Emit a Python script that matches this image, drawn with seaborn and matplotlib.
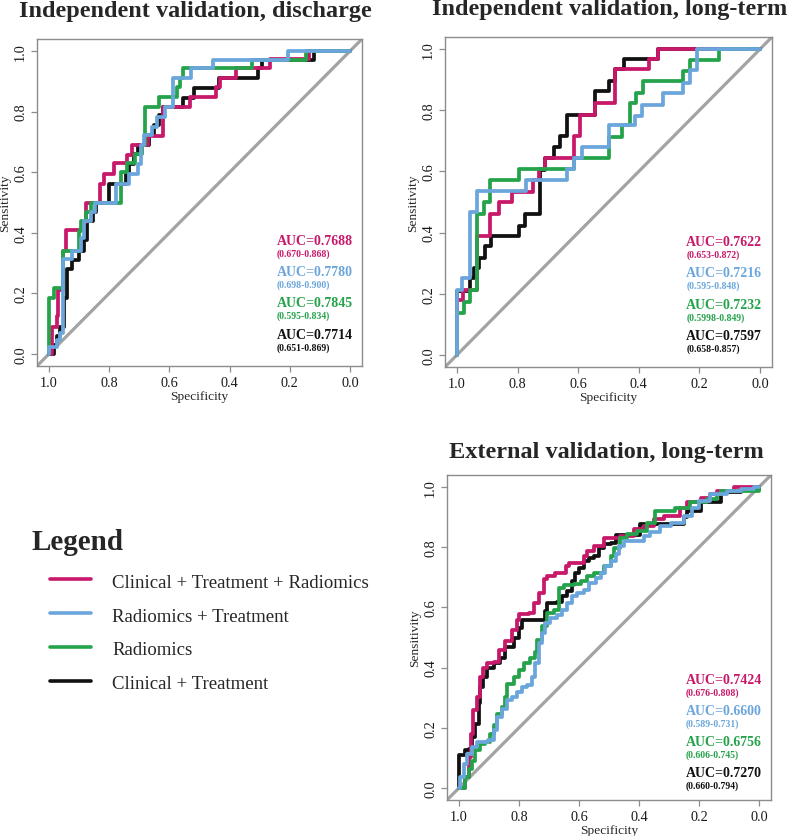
import numpy as np
import pandas as pd
import seaborn as sns
import matplotlib.pyplot as plt
from matplotlib.lines import Line2D

#%% data
models = ['Clinical + Treatment + Radiomics', 'Radiomics + Treatment', 'Radiomics', 'Clinical + Treatment']
colors = ['#C8186A', '#6AA6DC', '#25A34B', '#111111']

# independent validation, discharge
dis_ctr_spec = [1.0, 0.99, 0.975, 0.97, 0.955, 0.945, 0.89, 0.878, 0.83, 0.818, 0.785, 0.742, 0.724, 0.67, 0.62, 0.532, 0.444, 0.433, 0.378, 0.265, 0.135, 0.0]
dis_ctr_sens = [0.0, 0.09, 0.125, 0.21, 0.34, 0.41, 0.435, 0.5, 0.56, 0.595, 0.63, 0.656, 0.69, 0.72, 0.815, 0.85, 0.88, 0.91, 0.945, 0.975, 1.0, 1.0]
dis_rt_spec = [1.0, 1.0, 0.974, 0.963, 0.952, 0.925, 0.894, 0.883, 0.861, 0.848, 0.777, 0.734, 0.706, 0.695, 0.684, 0.657, 0.641, 0.615, 0.587, 0.527, 0.456, 0.205, 0.0]
dis_rt_sens = [0.0, 0.024, 0.047, 0.069, 0.312, 0.34, 0.384, 0.44, 0.467, 0.5, 0.561, 0.595, 0.628, 0.689, 0.722, 0.75, 0.783, 0.817, 0.911, 0.945, 0.972, 1.0, 1.0]
dis_r_spec = [1.0, 1.0, 0.985, 0.955, 0.90, 0.895, 0.876, 0.86, 0.761, 0.74, 0.713, 0.69, 0.68, 0.636, 0.576, 0.565, 0.555, 0.325, 0.145, 0.0]
dis_r_sens = [0.0, 0.185, 0.218, 0.34, 0.405, 0.44, 0.47, 0.5, 0.6, 0.63, 0.66, 0.69, 0.817, 0.85, 0.88, 0.91, 0.945, 0.972, 1.0, 1.0]
dis_ct_spec = [1.0, 0.985, 0.975, 0.965, 0.95, 0.94, 0.925, 0.9, 0.885, 0.875, 0.855, 0.845, 0.80, 0.745, 0.733, 0.717, 0.705, 0.667, 0.65, 0.636, 0.62, 0.555, 0.517, 0.435, 0.304, 0.293, 0.118, 0.0]
dis_ct_sens = [0.0, 0.03, 0.06, 0.09, 0.185, 0.28, 0.31, 0.34, 0.375, 0.44, 0.47, 0.5, 0.561, 0.6, 0.628, 0.66, 0.69, 0.722, 0.756, 0.79, 0.817, 0.845, 0.878, 0.911, 0.945, 0.972, 1.0, 1.0]

# independent validation, long-term
lt_ctr_spec = [1.0, 1.0, 0.98, 0.934, 0.89, 0.863, 0.819, 0.751, 0.729, 0.709, 0.615, 0.593, 0.544, 0.478, 0.365, 0.338, 0.0]
lt_ctr_sens = [0.0, 0.18, 0.213, 0.389, 0.461, 0.5, 0.532, 0.571, 0.607, 0.643, 0.717, 0.784, 0.825, 0.935, 0.968, 1.0, 1.0]
lt_rt_spec = [1.0, 1.0, 0.984, 0.959, 0.934, 0.771, 0.637, 0.615, 0.588, 0.5, 0.412, 0.39, 0.319, 0.253, 0.231, 0.207, 0.0]
lt_rt_sens = [0.0, 0.213, 0.251, 0.466, 0.536, 0.571, 0.607, 0.643, 0.681, 0.753, 0.783, 0.819, 0.858, 0.891, 0.933, 1.0, 1.0]
lt_r_spec = [1.0, 1.0, 0.978, 0.956, 0.934, 0.912, 0.89, 0.797, 0.615, 0.5, 0.456, 0.429, 0.409, 0.387, 0.253, 0.231, 0.134, 0.0]
lt_r_sens = [0.0, 0.136, 0.174, 0.213, 0.461, 0.5, 0.571, 0.607, 0.643, 0.714, 0.753, 0.825, 0.858, 0.896, 0.929, 0.966, 1.0, 1.0]
lt_ct_spec = [1.0, 1.0, 0.958, 0.945, 0.929, 0.909, 0.887, 0.797, 0.775, 0.725, 0.709, 0.681, 0.659, 0.637, 0.544, 0.5, 0.478, 0.45, 0.338, 0.0]
lt_ct_sens = [0.0, 0.21, 0.25, 0.284, 0.318, 0.356, 0.389, 0.422, 0.461, 0.604, 0.643, 0.681, 0.717, 0.786, 0.863, 0.896, 0.935, 0.968, 1.0, 1.0]

# external validation, long-term
ext_ctr_spec = [1.0, 0.98, 0.968, 0.96, 0.952, 0.941, 0.93, 0.919, 0.907, 0.885, 0.868, 0.846, 0.824, 0.807, 0.801, 0.767, 0.751, 0.734, 0.718, 0.707, 0.679, 0.645, 0.634, 0.595, 0.584, 0.573, 0.551, 0.517, 0.495, 0.462, 0.417, 0.385, 0.351, 0.318, 0.262, 0.24, 0.195, 0.162, 0.139, 0.084, 0.0]
ext_ctr_sens = [0.0, 0.036, 0.102, 0.18, 0.258, 0.303, 0.37, 0.398, 0.414, 0.42, 0.459, 0.487, 0.526, 0.559, 0.579, 0.581, 0.615, 0.648, 0.693, 0.704, 0.715, 0.739, 0.746, 0.746, 0.771, 0.787, 0.804, 0.832, 0.832, 0.837, 0.86, 0.871, 0.893, 0.904, 0.932, 0.949, 0.965, 0.977, 0.988, 0.999, 1.0]
ext_rt_spec = [1.0, 0.997, 0.985, 0.974, 0.958, 0.941, 0.902, 0.885, 0.874, 0.857, 0.84, 0.824, 0.807, 0.79, 0.774, 0.757, 0.746, 0.734, 0.723, 0.712, 0.696, 0.673, 0.657, 0.64, 0.623, 0.606, 0.584, 0.567, 0.545, 0.528, 0.512, 0.495, 0.478, 0.467, 0.45, 0.417, 0.384, 0.362, 0.329, 0.295, 0.251, 0.223, 0.201, 0.162, 0.106, 0.061, 0.017, 0.0]
ext_rt_sens = [0.0, 0.036, 0.08, 0.114, 0.136, 0.153, 0.158, 0.192, 0.236, 0.264, 0.292, 0.303, 0.32, 0.336, 0.342, 0.37, 0.414, 0.481, 0.514, 0.548, 0.565, 0.576, 0.592, 0.615, 0.637, 0.648, 0.659, 0.682, 0.698, 0.715, 0.737, 0.754, 0.776, 0.804, 0.821, 0.821, 0.837, 0.849, 0.871, 0.882, 0.904, 0.932, 0.954, 0.977, 0.988, 0.993, 1.0, 1.0]
ext_r_spec = [1.0, 0.98, 0.968, 0.958, 0.946, 0.93, 0.913, 0.896, 0.885, 0.874, 0.857, 0.846, 0.84, 0.818, 0.801, 0.785, 0.763, 0.746, 0.74, 0.723, 0.707, 0.684, 0.668, 0.651, 0.618, 0.595, 0.573, 0.551, 0.517, 0.495, 0.484, 0.462, 0.439, 0.406, 0.373, 0.346, 0.279, 0.229, 0.173, 0.139, 0.128, 0.0]
ext_r_sens = [0.0, 0.036, 0.063, 0.091, 0.125, 0.147, 0.153, 0.18, 0.208, 0.247, 0.27, 0.303, 0.347, 0.37, 0.392, 0.414, 0.431, 0.453, 0.492, 0.537, 0.581, 0.592, 0.665, 0.676, 0.679, 0.687, 0.704, 0.715, 0.737, 0.771, 0.798, 0.832, 0.843, 0.854, 0.882, 0.921, 0.932, 0.949, 0.96, 0.977, 0.988, 1.0]
ext_ct_spec = [1.0, 1.0, 0.98, 0.968, 0.958, 0.946, 0.935, 0.93, 0.919, 0.907, 0.885, 0.862, 0.846, 0.818, 0.801, 0.79, 0.729, 0.712, 0.707, 0.673, 0.657, 0.64, 0.623, 0.612, 0.601, 0.584, 0.567, 0.551, 0.534, 0.517, 0.495, 0.478, 0.43, 0.396, 0.256, 0.251, 0.24, 0.195, 0.128, 0.067, 0.061, 0.0]
ext_ct_sens = [0.0, 0.108, 0.125, 0.13, 0.169, 0.214, 0.281, 0.336, 0.37, 0.398, 0.414, 0.431, 0.47, 0.498, 0.531, 0.557, 0.557, 0.587, 0.615, 0.617, 0.637, 0.654, 0.687, 0.715, 0.732, 0.754, 0.765, 0.771, 0.798, 0.81, 0.815, 0.84, 0.84, 0.876, 0.876, 0.899, 0.921, 0.949, 0.982, 0.982, 0.993, 1.0]

# AUC annotations (same order as models)
dis_auc = ['AUC=0.7688', 'AUC=0.7780', 'AUC=0.7845', 'AUC=0.7714']
dis_ci = ['(0.670-0.868)', '(0.698-0.900)', '(0.595-0.834)', '(0.651-0.869)']
lt_auc = ['AUC=0.7622', 'AUC=0.7216', 'AUC=0.7232', 'AUC=0.7597']
lt_ci = ['(0.653-0.872)', '(0.595-0.848)', '(0.5998-0.849)', '(0.658-0.857)']
ext_auc = ['AUC=0.7424', 'AUC=0.6600', 'AUC=0.6756', 'AUC=0.7270']
ext_ci = ['(0.676-0.808)', '(0.589-0.731)', '(0.606-0.745)', '(0.660-0.794)']

#%% plotting
sns.set_style('white')
plt.rcParams['font.family'] = ['Liberation Serif', 'DejaVu Serif']

W, H = 787, 837
fig = plt.figure(figsize=(W / 100, H / 100), dpi=100)
pal = dict(zip(models, colors))
draw_order = [models[3], models[0], models[2], models[1]]


def px_rect(x0, y0, x1, y1):
    return [x0 / W, 1 - y1 / H, (x1 - x0) / W, (y1 - y0) / H]


def roc_panel(rect, curves, aucs, cis, text_top):
    ax = fig.add_axes(rect)
    frames = []
    for name, (sp, se) in zip(models, curves):
        frames.append(pd.DataFrame({'spec': sp, 'sens': se, 'model': name}))
    df = pd.concat(frames, ignore_index=True)
    ax.axline((1, 0), (0, 1), color='#A3A3A3', lw=2.3, zorder=1)
    sns.lineplot(data=df, x='spec', y='sens', hue='model', hue_order=draw_order,
                 palette=pal, sort=False, estimator=None, lw=2.7, legend=False,
                 drawstyle='steps-post', ax=ax, zorder=2)
    ax.set_xlim(1.04, -0.04)
    ax.set_ylim(-0.04, 1.04)
    ticks = np.arange(0, 1.01, 0.2)
    ax.set_xticks(ticks)
    ax.set_yticks(ticks)
    ax.set_xticklabels(['%.1f' % t for t in ticks])
    ax.set_yticklabels(['%.1f' % t for t in ticks])
    plt.setp(ax.get_yticklabels(), rotation=90, va='center')
    ax.tick_params(direction='out', length=4, width=0.9, color='#8C8C8C',
                   labelsize=10.3, pad=3, bottom=True, left=True, labelcolor='#1A1A1A')
    for s in ax.spines.values():
        s.set_color('#8C8C8C')
        s.set_linewidth(1.0)
    ax.set_xlabel('Specificity', fontsize=9.6, labelpad=1)
    ax.set_ylabel('Sensitivity', fontsize=9.6, labelpad=2)
    for i, (a, c) in enumerate(zip(aucs, cis)):
        yb = text_top - 0.103 * i
        ax.text(0.243, yb, a, color=colors[i], fontsize=10, fontweight='bold', ha='left', va='baseline')
        ax.text(0.243, yb - 0.039, c, color=colors[i], fontsize=7, fontweight='bold', ha='left', va='baseline')
    return ax


roc_panel(px_rect(37, 40, 362, 367),
          [(dis_ctr_spec, dis_ctr_sens), (dis_rt_spec, dis_rt_sens), (dis_r_spec, dis_r_sens), (dis_ct_spec, dis_ct_sens)],
          dis_auc, dis_ci, 0.363)
roc_panel(px_rect(445, 38, 772, 368),
          [(lt_ctr_spec, lt_ctr_sens), (lt_rt_spec, lt_rt_sens), (lt_r_spec, lt_r_sens), (lt_ct_spec, lt_ct_sens)],
          lt_auc, lt_ci, 0.36)
roc_panel(px_rect(447, 476, 771, 801),
          [(ext_ctr_spec, ext_ctr_sens), (ext_rt_spec, ext_rt_sens), (ext_r_spec, ext_r_sens), (ext_ct_spec, ext_ct_sens)],
          ext_auc, ext_ci, 0.348)

title_kw = dict(fontsize=17.5, fontweight='bold', ha='center', va='baseline')
fig.text(195 / W, 1 - 16.5 / H, 'Independent validation, discharge', **title_kw)
fig.text(610 / W, 1 - 15.5 / H, 'Independent validation, long-term', **title_kw)
fig.text(606 / W, 1 - 458 / H, 'External validation, long-term', **title_kw)

# legend block
fig.text(32 / W, 1 - 550 / H, 'Legend', fontsize=21, fontweight='bold', ha='left', va='baseline')
for i, (name, c) in enumerate(zip(models, colors)):
    yl = 580 + 34 * i
    fig.add_artist(Line2D([50 / W, 91 / W], [1 - yl / H, 1 - yl / H], color=c, lw=2.6))
    fig.text(112 / W, 1 - (yl + 7.5) / H, name, fontsize=13.5, ha='left', va='baseline')

fig.savefig('out.png', dpi=100)
